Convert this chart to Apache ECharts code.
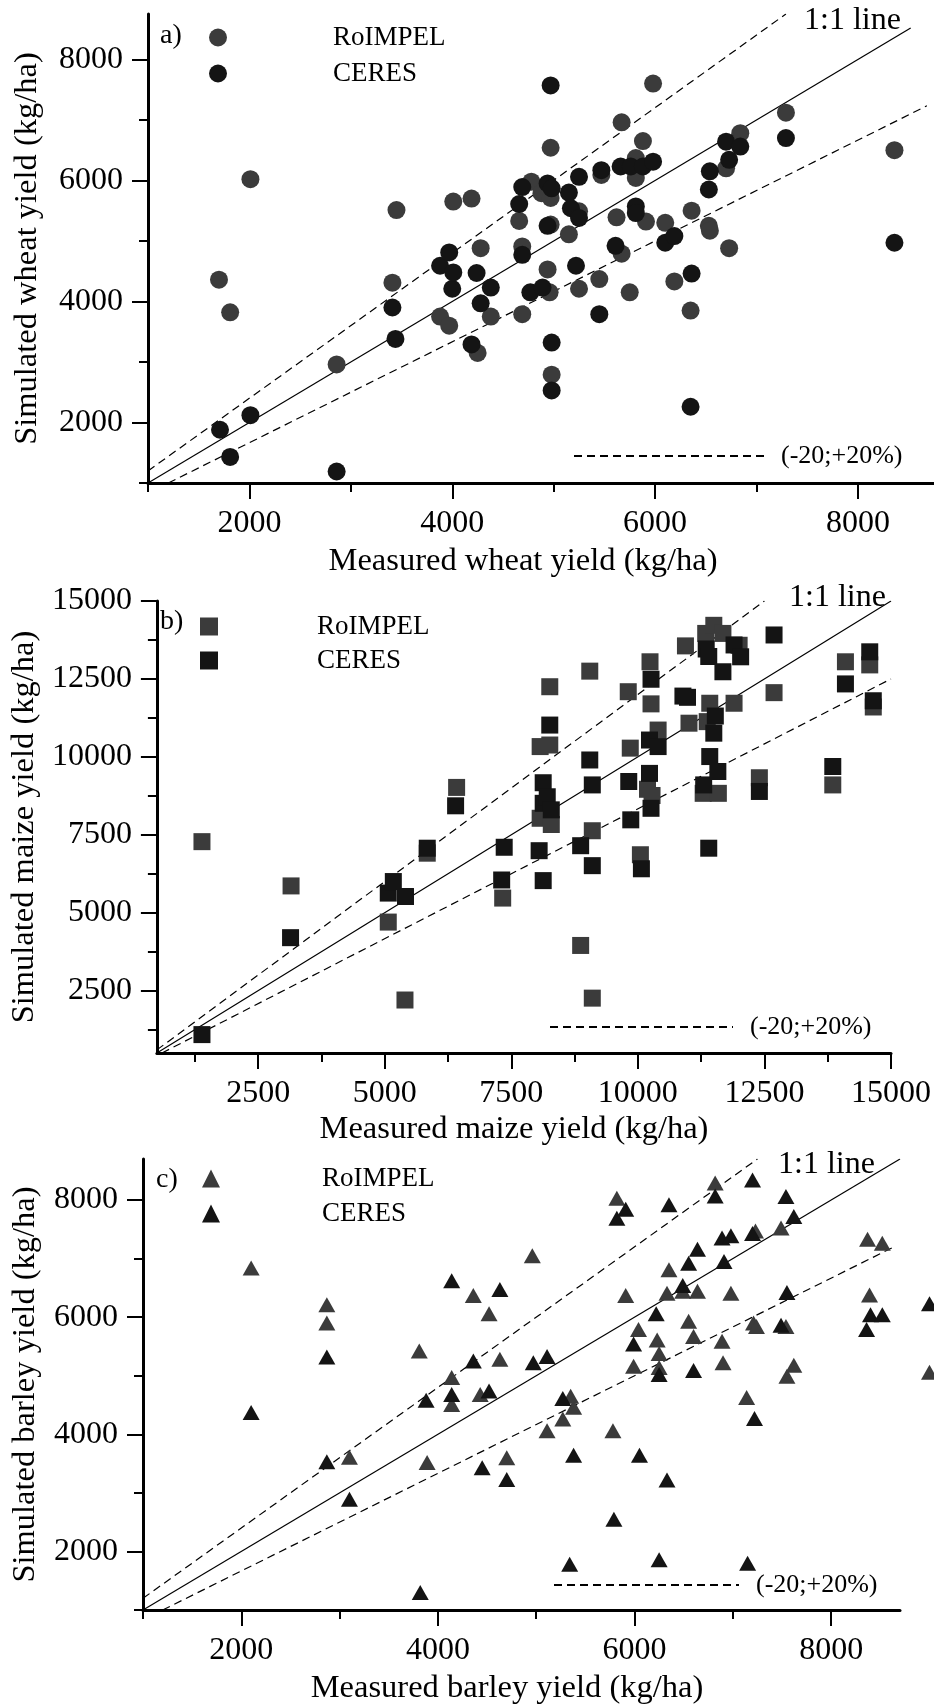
<!DOCTYPE html>
<html>
<head>
<meta charset="utf-8">
<script src="https://cdn.jsdelivr.net/npm/echarts@6/dist/echarts.min.js"></script>
<style>
  html, body { margin: 0; padding: 0; background: #fff; }
  #chart { width: 934px; height: 1706px; }
</style>
</head>
<body>
<div id="chart"></div>
<script>
var FONT = 'Liberation Serif';
var GRAY = '#3b3b3b';
var BLACK = '#141414';

// a) wheat [measured, simulated]
var wheatRoimpel = [
  [1700, 4360], [1810, 3820], [2010, 6020], [2860, 2960], [3410, 4310], [3450, 5510], [3880, 3750],
  [3970, 3600], [4010, 5650], [4190, 5700], [4250, 3150], [4280, 4880], [4380, 3750], [4660, 5330],
  [4690, 4910], [4690, 3790], [4780, 5980], [4880, 5790], [4940, 4530], [4960, 4150], [4970, 5710],
  [4970, 6540], [4970, 5270], [4980, 2790], [5150, 5110], [5250, 5490], [5250, 4210], [5450, 4370],
  [5470, 6090], [5620, 5390], [5670, 6960], [5670, 4790], [5750, 4150], [5810, 6370], [5810, 6040],
  [5880, 6650], [5910, 5320], [5980, 7600], [6100, 5300], [6190, 4330], [6350, 3850], [6360, 5500],
  [6530, 5250], [6540, 5170], [6700, 6200], [6730, 4880], [6840, 6780], [7290, 7120], [8360, 6500]
];
var wheatCeres = [
  [1710, 1880], [1810, 1430], [2010, 2120], [2860, 1190], [3410, 3900], [3440, 3380], [3880, 4590],
  [3970, 4810], [4000, 4210], [4010, 4480], [4190, 3290], [4240, 4470], [4280, 3970], [4380, 4230],
  [4660, 5610], [4690, 5890], [4690, 4770], [4770, 4150], [4890, 4230], [4940, 5950], [4940, 5250],
  [4970, 7570], [4980, 5870], [4980, 3320], [4980, 2530], [5150, 5800], [5170, 5540], [5220, 4590],
  [5250, 6060], [5250, 5380], [5450, 3790], [5470, 6170], [5610, 4920], [5660, 6230], [5760, 6230],
  [5810, 5570], [5810, 5460], [5880, 6230], [5980, 6310], [6100, 4970], [6190, 5080], [6350, 2260],
  [6360, 4460], [6530, 5850], [6540, 6150], [6700, 6640], [6730, 6340], [6840, 6560], [7290, 6700],
  [8360, 4970]
];

// b) maize
var maizeRoimpel = [
  [1390, 7280], [3150, 5860], [5070, 4700], [5400, 2200], [5840, 6910], [6420, 9020], [7330, 5470],
  [8070, 10330], [8070, 8030], [8260, 10380], [8260, 12250], [8290, 7830], [8870, 3950], [9050, 12750],
  [9100, 7630], [9100, 2260], [9810, 12090], [9850, 10280], [10050, 6860], [10190, 8960], [10240, 13050],
  [10260, 11700], [10280, 8760], [10400, 10860], [10940, 13560], [11010, 11080], [11290, 8830],
  [11340, 13960], [11370, 11130], [11420, 11720], [11500, 14220], [11590, 8830], [11680, 13960],
  [11900, 11720], [12000, 13580], [12400, 9330], [12690, 12060], [13850, 9100], [14100, 13050],
  [14580, 12950], [14650, 11600]
];
var maizeCeres = [
  [1390, 1090], [3140, 4200], [5070, 5630], [5170, 6000], [5410, 5520], [5840, 7070], [6400, 8430],
  [7310, 6050], [7360, 7100], [8050, 6990], [8130, 6030], [8130, 9170], [8130, 8510], [8210, 8720],
  [8260, 11020], [8290, 8300], [8870, 7150], [9050, 9900], [9100, 9100], [9100, 6510], [9820, 9210],
  [9860, 7980], [10070, 6410], [10230, 10540], [10230, 9470], [10260, 12490], [10260, 8350],
  [10400, 10330], [10890, 11950], [10980, 11910], [11300, 9100], [11350, 13460], [11400, 13220],
  [11400, 7070], [11420, 10010], [11500, 10760], [11530, 11310], [11580, 9530], [11680, 12730],
  [11900, 13590], [12030, 13210], [12400, 8890], [12690, 13910], [13850, 9690], [14100, 12340],
  [14580, 13370], [14650, 11800]
];

// c) barley
var barleyRoimpel = [
  [2100, 6840], [2870, 6210], [2870, 5900], [3100, 3610], [3810, 5420], [3890, 3520], [4140, 4970],
  [4140, 4510], [4360, 6370], [4430, 4680], [4520, 6060], [4630, 5280], [4700, 3600], [4960, 7050],
  [5110, 4060], [5270, 4260], [5350, 4650], [5380, 4460], [5780, 4060], [5820, 8030], [5910, 6370],
  [5990, 5160], [6040, 5790], [6230, 5610], [6250, 5380], [6250, 5140], [6330, 6410], [6350, 6810],
  [6490, 6440], [6550, 5930], [6600, 5670], [6640, 6440], [6820, 8290], [6890, 5590], [6900, 5220],
  [6980, 6410], [7140, 4630], [7210, 5900], [7240, 5840], [7230, 7470], [7490, 7520], [7540, 5840],
  [7550, 4990], [7620, 5180], [8370, 7330], [8520, 7260], [8390, 6380], [9000, 5060]
];
var barleyCeres = [
  [2100, 4370], [2870, 5320], [2870, 3530], [3100, 2890], [3820, 1300], [3880, 4580], [4140, 6620],
  [4140, 4680], [4360, 5250], [4450, 3430], [4520, 4740], [4630, 6470], [4700, 3230], [4970, 5220],
  [5110, 5330], [5270, 4610], [5340, 1780], [5380, 3640], [5790, 2550], [5820, 7690], [5910, 7840],
  [5990, 5540], [6050, 3640], [6220, 6060], [6250, 5020], [6250, 1860], [6330, 3220], [6350, 7920],
  [6490, 6540], [6550, 6920], [6600, 5090], [6640, 7160], [6820, 8070], [6890, 7350], [6910, 6950],
  [6980, 7390], [7150, 1800], [7200, 8340], [7200, 7430], [7220, 4270], [7490, 5860], [7540, 8060],
  [7550, 6420], [7620, 7720], [8360, 5790], [8400, 6040], [8520, 6040], [9000, 6230]
];

// reference lines: 1:1, +20% and -20% (end points)
var wheatOne = [[1000, 1000], [8520, 8520]];
var wheatUpper = [[1000, 1200], [7290, 8750]];
var wheatLower = [[1200, 1000], [8680, 7233]];
var maizeOne = [[500, 500], [15000, 15000]];
var maizeUpper = [[500, 600], [12500, 15000]];
var maizeLower = [[600, 500], [15000, 12500]];
var barleyOne = [[1000, 1000], [8700, 8700]];
var barleyUpper = [[1000, 1200], [7250, 8700]];
var barleyLower = [[1200, 1000], [8630, 7192]];

// axis ranges and ticks
var wheatRange = [1000, 8750];
var maizeRange = [500, 15000];
var barleyRange = [1000, 8700];
var kgTicks = [2000, 4000, 6000, 8000];
var kgMinor = [1000, 3000, 5000, 7000];
var maizeTicks = [2500, 5000, 7500, 10000, 12500, 15000];
var maizeMinor = [1250, 3750, 6250, 8750, 11250, 13750];

var txt = { fontFamily: FONT, color: '#000' };

function mainAxis(dim, i, range, ticks, name, gap, shift) {
  return {
    type: 'value', gridIndex: i, min: range[0], max: range[1],
    position: dim === 'x' ? 'bottom' : 'left',
    name: name, nameLocation: 'middle', nameGap: gap,
    nameTextStyle: Object.assign({ fontSize: 32.5, padding: [0, shift || 0, 0, 0] }, txt),
    axisLine: { show: true, onZero: false, lineStyle: { color: '#000', width: 3 } },
    axisTick: { show: true, length: 16, customValues: ticks, lineStyle: { color: '#000', width: 2 } },
    axisLabel: Object.assign({
      customValues: ticks, margin: 25, fontSize: 32,
      formatter: function (v) { return String(v); }
    }, txt),
    splitLine: { show: false }
  };
}

// second axis on the same grid, only for the short ticks
function minorAxis(dim, i, range, ticks) {
  return {
    type: 'value', gridIndex: i, min: range[0], max: range[1],
    position: dim === 'x' ? 'bottom' : 'left',
    axisLine: { show: false, onZero: false },
    axisTick: { show: true, length: 9, customValues: ticks, lineStyle: { color: '#000', width: 2 } },
    axisLabel: { show: false },
    splitLine: { show: false }
  };
}

function dots(name, data, i, symbol, size, color) {
  return {
    type: 'scatter', name: name, xAxisIndex: i, yAxisIndex: i, data: data,
    symbol: symbol, symbolSize: size, clip: false, z: 3,
    itemStyle: { color: color, opacity: 1 }
  };
}

function refLine(name, data, i, dashed) {
  return {
    type: 'line', name: name, xAxisIndex: i, yAxisIndex: i, data: data,
    symbol: 'none', silent: true, z: 2,
    itemStyle: { color: 'rgba(0,0,0,0)' },
    lineStyle: { color: '#000', width: 1.2, type: dashed ? [8, 5] : 'solid' }
  };
}

function markerLegend(left, top, gap, icon, pad) {
  return {
    orient: 'vertical', left: left, top: top, padding: 0, itemGap: gap,
    itemWidth: 18, itemHeight: 18, selectedMode: false,
    data: [{ name: 'RoIMPEL', icon: icon }, { name: 'CERES', icon: icon }],
    textStyle: Object.assign({ fontSize: 27, lineHeight: 18, padding: [0, 0, 0, pad] }, txt)
  };
}

function dashLegend(left, top, width) {
  return {
    left: left, top: top, padding: 0, itemWidth: width, itemHeight: 14, selectedMode: false,
    data: ['(-20;+20%)'],
    itemStyle: { opacity: 0 },
    textStyle: Object.assign({ fontSize: 26, padding: [0, 0, 0, 12] }, txt)
  };
}

function label(text, left, top, size) {
  return {
    text: text, left: left, top: top, padding: 0,
    textStyle: Object.assign({ fontSize: size, fontWeight: 'normal', lineHeight: size }, txt)
  };
}

var chart = echarts.init(document.getElementById('chart'));

var option = {
  animation: false,
  backgroundColor: '#fff',
  title: [
    label('a)', 160, 22, 28), label('1:1 line', 804, 5, 32),
    label('b)', 160, 608, 28), label('1:1 line', 789, 582, 32),
    label('c)', 156, 1166, 28), label('1:1 line', 778, 1149, 32)
  ],
  legend: [
    markerLegend(209, 24, 9, 'circle', 101),
    markerLegend(200, 613, 7, 'rect', 94),
    markerLegend(202, 1165, 8, 'triangle', 97),
    dashLegend(573, 443, 190),
    dashLegend(549, 1014, 183),
    dashLegend(553, 1572, 185)
  ],
  grid: [
    { left: 148, top: 14, width: 786, height: 469 },
    { left: 142, top: 601, width: 750, height: 452 },
    { left: 143, top: 1159, width: 757, height: 452 }
  ],
  xAxis: [
    mainAxis('x', 0, wheatRange, kgTicks, 'Measured wheat yield (kg/ha)', 62, 36),
    mainAxis('x', 1, maizeRange, maizeTicks, 'Measured maize yield (kg/ha)', 60, 20),
    mainAxis('x', 2, barleyRange, kgTicks, 'Measured barley yield (kg/ha)', 62, 29),
    minorAxis('x', 0, wheatRange, kgMinor),
    minorAxis('x', 1, maizeRange, maizeMinor),
    minorAxis('x', 2, barleyRange, kgMinor)
  ],
  yAxis: [
    mainAxis('y', 0, wheatRange, kgTicks, 'Simulated wheat yield (kg/ha)', 104, 0),
    mainAxis('y', 1, maizeRange, maizeTicks, 'Simulated maize yield (kg/ha)', 99, 0),
    mainAxis('y', 2, barleyRange, kgTicks, 'Simulated barley yield (kg/ha)', 101, 0),
    minorAxis('y', 0, wheatRange, kgMinor),
    minorAxis('y', 1, maizeRange, maizeMinor),
    minorAxis('y', 2, barleyRange, kgMinor)
  ],
  series: [
    refLine('1:1', wheatOne, 0, false),
    refLine('(-20;+20%)', wheatUpper, 0, true),
    refLine('(-20;+20%)', wheatLower, 0, true),
    refLine('1:1', maizeOne, 1, false),
    refLine('(-20;+20%)', maizeUpper, 1, true),
    refLine('(-20;+20%)', maizeLower, 1, true),
    refLine('1:1', barleyOne, 2, false),
    refLine('(-20;+20%)', barleyUpper, 2, true),
    refLine('(-20;+20%)', barleyLower, 2, true),
    dots('RoIMPEL', wheatRoimpel, 0, 'circle', 18, GRAY),
    dots('CERES', wheatCeres, 0, 'circle', 18, BLACK),
    dots('RoIMPEL', maizeRoimpel, 1, 'rect', 17, GRAY),
    dots('CERES', maizeCeres, 1, 'rect', 17, BLACK),
    dots('RoIMPEL', barleyRoimpel, 2, 'triangle', [17, 15], GRAY),
    dots('CERES', barleyCeres, 2, 'triangle', [17, 15], BLACK)
  ]
};

chart.setOption(option);
</script>
</body>
</html>
